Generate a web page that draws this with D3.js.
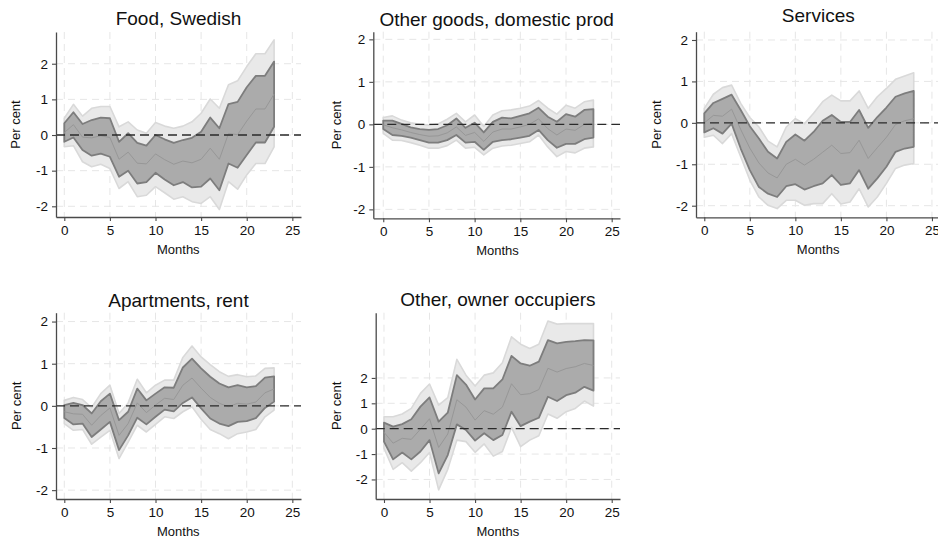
<!DOCTYPE html>
<html>
<head>
<meta charset="utf-8">
<script src="https://cdn.jsdelivr.net/npm/d3@7"></script>
<style>
  html, body { margin: 0; padding: 0; background: #ffffff; }
  svg { display: block; font-family: "Liberation Sans", Arial, sans-serif; }
</style>
</head>
<body>
<svg id="chart" width="938" height="537"></svg>
<script>
// ---------------- DATA ----------------
const months = [0,1,2,3,4,5,6,7,8,9,10,11,12,13,14,15,16,17,18,19,20,21,22,23];
const xTicks = [0, 5, 10, 15, 20, 25];
const yTicks = [-2, -1, 0, 1, 2];
const titles = ["Food, Swedish", "Other goods, domestic prod", "Services", "Apartments, rent", "Other, owner occupiers"];
const xLabel = "Months";
const yLabel = "Per cent";

// Food, Swedish
const foodHi90 = [0.47,0.86,0.53,0.75,0.80,0.80,0.23,0.37,0.14,0.05,0.35,0.25,0.19,0.25,0.37,0.61,1.01,0.75,1.41,1.52,1.92,2.28,2.28,2.67];
const foodHi68 = [0.33,0.64,0.31,0.42,0.49,0.47,-0.19,0.05,-0.22,-0.30,0.00,-0.12,-0.22,-0.14,-0.08,0.09,0.49,0.19,0.87,0.93,1.34,1.66,1.66,2.06];
const foodMed  = [0.07,0.29,-0.06,-0.08,-0.02,-0.07,-0.68,-0.48,-0.79,-0.81,-0.53,-0.69,-0.82,-0.73,-0.78,-0.68,-0.37,-0.68,0.04,0.01,0.39,0.73,0.73,1.15];
const foodLo68 = [-0.19,-0.07,-0.42,-0.58,-0.52,-0.61,-1.17,-1.00,-1.36,-1.32,-1.06,-1.25,-1.41,-1.32,-1.47,-1.45,-1.22,-1.55,-0.80,-0.92,-0.56,-0.21,-0.21,0.23];
const foodLo90 = [-0.33,-0.30,-0.75,-0.89,-0.82,-0.94,-1.50,-1.31,-1.73,-1.69,-1.45,-1.62,-1.80,-1.73,-1.87,-1.92,-1.73,-2.09,-1.31,-1.52,-1.12,-0.80,-0.80,-0.33];

// Other goods, domestic prod
const goodsHi90 = [0.16,0.20,0.10,0.04,0.00,-0.02,0.01,0.12,0.26,0.06,0.22,-0.05,0.22,0.32,0.34,0.38,0.43,0.56,0.38,0.24,0.45,0.38,0.53,0.57];
const goodsHi68 = [0.09,0.09,0.01,-0.07,-0.11,-0.13,-0.11,-0.02,0.14,-0.08,0.04,-0.19,0.06,0.16,0.14,0.20,0.26,0.39,0.18,0.06,0.24,0.18,0.34,0.36];
const goodsMed  = [-0.01,-0.08,-0.13,-0.19,-0.24,-0.28,-0.27,-0.20,-0.06,-0.26,-0.19,-0.40,-0.18,-0.11,-0.11,-0.06,0.00,0.13,-0.10,-0.25,-0.11,-0.14,0.00,0.03];
const goodsLo68 = [-0.11,-0.25,-0.27,-0.31,-0.37,-0.43,-0.43,-0.37,-0.25,-0.43,-0.41,-0.60,-0.41,-0.37,-0.35,-0.31,-0.27,-0.13,-0.37,-0.55,-0.46,-0.46,-0.35,-0.31];
const goodsLo90 = [-0.21,-0.37,-0.38,-0.43,-0.49,-0.56,-0.56,-0.50,-0.37,-0.56,-0.54,-0.72,-0.56,-0.51,-0.49,-0.45,-0.41,-0.25,-0.53,-0.76,-0.64,-0.67,-0.56,-0.53];

// Services
const servHi90 = [0.35,0.69,0.85,0.91,0.47,0.13,-0.10,-0.44,-0.58,-0.10,0.10,-0.02,0.23,0.51,0.67,0.53,0.53,0.77,0.35,0.63,0.83,1.05,1.13,1.21];
const servHi68 = [0.23,0.48,0.58,0.68,0.31,-0.08,-0.38,-0.70,-0.86,-0.46,-0.28,-0.43,-0.22,0.05,0.19,0.02,0.02,0.31,-0.12,0.14,0.37,0.63,0.71,0.77];
const servMed  = [0.00,0.18,0.16,0.33,-0.16,-0.61,-0.97,-1.21,-1.33,-1.00,-0.88,-1.02,-0.88,-0.71,-0.54,-0.74,-0.72,-0.42,-0.86,-0.60,-0.35,-0.04,0.05,0.10];
const servLo68 = [-0.23,-0.13,-0.26,-0.02,-0.62,-1.14,-1.55,-1.71,-1.79,-1.53,-1.48,-1.61,-1.53,-1.46,-1.26,-1.50,-1.46,-1.14,-1.59,-1.34,-1.06,-0.70,-0.62,-0.58];
const servLo90 = [-0.35,-0.30,-0.50,-0.26,-0.82,-1.38,-1.79,-1.99,-2.07,-1.87,-1.87,-1.99,-1.95,-1.95,-1.71,-1.96,-1.91,-1.59,-2.03,-1.79,-1.46,-1.10,-1.02,-0.98];

// Apartments, rent
const rentHi90 = [0.13,0.20,0.15,-0.04,0.29,0.49,-0.18,0.07,0.63,0.31,0.49,0.61,0.61,1.15,1.42,1.16,0.98,0.81,0.70,0.74,0.69,0.71,0.89,0.90];
const rentHi68 = [0.02,0.07,0.02,-0.18,0.11,0.29,-0.34,-0.14,0.41,0.13,0.29,0.44,0.43,0.91,1.12,0.89,0.69,0.53,0.44,0.49,0.44,0.47,0.67,0.70];
const rentMed  = [-0.14,-0.19,-0.20,-0.46,-0.23,-0.05,-0.70,-0.42,0.07,-0.16,0.02,0.18,0.15,0.49,0.66,0.42,0.20,0.06,-0.02,0.06,0.04,0.09,0.31,0.40];
const rentLo68 = [-0.29,-0.44,-0.42,-0.74,-0.56,-0.38,-1.05,-0.70,-0.28,-0.44,-0.26,-0.09,-0.13,0.07,0.20,-0.06,-0.30,-0.42,-0.48,-0.38,-0.36,-0.29,-0.05,0.10];
const rentLo90 = [-0.42,-0.58,-0.56,-0.91,-0.74,-0.58,-1.25,-0.86,-0.46,-0.62,-0.44,-0.26,-0.30,-0.14,-0.02,-0.32,-0.56,-0.66,-0.78,-0.66,-0.62,-0.56,-0.26,-0.10];

// Other, owner occupiers
const ownHi90 = [0.47,0.47,0.58,0.80,1.39,1.76,0.93,1.22,2.73,2.11,1.68,2.11,2.20,2.60,3.62,3.33,3.16,3.33,4.24,4.12,4.14,4.14,4.14,4.14];
const ownHi68 = [0.24,0.08,0.18,0.37,0.87,1.23,0.28,0.63,2.11,1.74,1.15,1.59,1.59,1.94,2.87,2.57,2.48,2.64,3.49,3.36,3.42,3.45,3.49,3.48];
const ownMed  = [-0.14,-0.57,-0.38,-0.42,-0.02,0.39,-0.74,-0.21,1.14,0.85,0.34,0.71,0.57,0.85,1.77,1.34,1.38,1.54,2.38,2.23,2.37,2.44,2.57,2.49];
const ownLo68 = [-0.51,-1.21,-0.94,-1.21,-0.90,-0.45,-1.76,-1.04,0.17,-0.05,-0.47,-0.18,-0.45,-0.25,0.67,0.10,0.28,0.43,1.26,1.09,1.32,1.42,1.65,1.50];
const ownLo90 = [-0.77,-1.60,-1.34,-1.67,-1.34,-0.94,-2.41,-1.60,-0.45,-0.51,-0.93,-0.60,-1.08,-0.90,0.05,-0.71,-0.45,-0.28,0.58,0.41,0.67,0.80,1.09,0.89];

const seriesSets = [
  [foodLo90, foodLo68, foodMed, foodHi68, foodHi90],
  [goodsLo90, goodsLo68, goodsMed, goodsHi68, goodsHi90],
  [servLo90, servLo68, servMed, servHi68, servHi90],
  [rentLo90, rentLo68, rentMed, rentHi68, rentHi90],
  [ownLo90, ownLo68, ownMed, ownHi68, ownHi90]
];

// ---------------- LAYOUT (pixels, styling) ----------------
const layouts = [
  { left: 56,    right: 301,   top: 32,    bottom: 217,   xd: [-0.91, 25.95], yd: [-2.30, 2.89], titleY: 25,    ylabX: 15 },
  { left: 373.3, right: 620,   top: 31.7,  bottom: 218.3, xd: [-1.09, 25.91], yd: [-2.21, 2.18], titleY: 26,    ylabX: 336 },
  { left: 696,   right: 940.6, top: 31.7,  bottom: 217.3, xd: [-0.91, 25.95], yd: [-2.28, 2.20], titleY: 21.7,  ylabX: 656 },
  { left: 56,    right: 301,   top: 312.7, bottom: 499,   xd: [-0.91, 25.95], yd: [-2.21, 2.21], titleY: 306.7, ylabX: 16.7 },
  { left: 375.7, right: 620,   top: 312.7, bottom: 499,   xd: [-0.91, 25.91], yd: [-2.77, 4.57], titleY: 306,   ylabX: 336.7 }
];

const svg = d3.select("#chart");

layouts.forEach((L, i) => {
  const [lo90, lo68, med, hi68, hi90] = seriesSets[i];
  const x = d3.scaleLinear().domain(L.xd).range([L.left, L.right]);
  const y = d3.scaleLinear().domain(L.yd).range([L.bottom, L.top]);
  const g = svg.append("g");

  // gridlines
  g.selectAll(".vg").data(xTicks).enter().append("line")
    .attr("x1", d => x(d)).attr("x2", d => x(d))
    .attr("y1", L.top).attr("y2", L.bottom)
    .attr("stroke", "#e6e6e6").attr("stroke-width", 1)
    .attr("stroke-dasharray", "7,5");
  g.selectAll(".hg").data(yTicks).enter().append("line")
    .attr("x1", L.left).attr("x2", L.right)
    .attr("y1", d => y(d)).attr("y2", d => y(d))
    .attr("stroke", "#e6e6e6").attr("stroke-width", 1)
    .attr("stroke-dasharray", "7,5");

  const rows = months.map((m, k) => ({ m, lo90: lo90[k], lo68: lo68[k], med: med[k], hi68: hi68[k], hi90: hi90[k] }));

  const outer = d3.area().x(d => x(d.m)).y0(d => y(d.lo90)).y1(d => y(d.hi90));
  const inner = d3.area().x(d => x(d.m)).y0(d => y(d.lo68)).y1(d => y(d.hi68));
  const mid = d3.line().x(d => x(d.m)).y(d => y(d.med));

  g.append("path").datum(rows).attr("d", outer)
    .attr("fill", "#e9e9e9").attr("stroke", "#d9d9d9").attr("stroke-width", 1.6)
    .attr("stroke-linejoin", "round");
  g.append("path").datum(rows).attr("d", inner)
    .attr("fill", "#ababab").attr("stroke", "#7d7d7d").attr("stroke-width", 1.8)
    .attr("stroke-linejoin", "round");
  g.append("path").datum(rows).attr("d", mid)
    .attr("fill", "none").attr("stroke", "#979797").attr("stroke-width", 1);

  // zero line
  g.append("line")
    .attr("x1", L.left).attr("x2", L.right)
    .attr("y1", y(0)).attr("y2", y(0))
    .attr("stroke", "#2a2a2a").attr("stroke-width", 1.3)
    .attr("stroke-dasharray", "9,5");

  // axes
  const xa = g.append("g").attr("transform", `translate(0,${L.bottom})`)
    .call(d3.axisBottom(x).tickValues(xTicks).tickSize(4).tickPadding(4).tickSizeOuter(0));
  const ya = g.append("g").attr("transform", `translate(${L.left},0)`)
    .call(d3.axisLeft(y).tickValues(yTicks).tickSize(4).tickPadding(4).tickSizeOuter(0)
      .tickFormat(d3.format("d")));
  [xa, ya].forEach(a => {
    a.select(".domain").attr("stroke", "#4a4a4a").attr("stroke-width", 1.3);
    a.selectAll(".tick line").attr("stroke", "#4a4a4a").attr("stroke-width", 1.1);
    a.selectAll(".tick text").attr("fill", "#111").style("font-size", "13.5px")
      .style("font-family", "'Liberation Sans', Arial, sans-serif");
  });
  ya.selectAll(".tick text").text(d => d < 0 ? "-" + Math.abs(d) : String(d));

  // title
  g.append("text")
    .attr("x", (L.left + Math.min(L.right, 940.6)) / 2).attr("y", L.titleY)
    .attr("text-anchor", "middle").attr("fill", "#111")
    .style("font-size", "19px").text(titles[i]);

  // x label
  g.append("text")
    .attr("x", x(12.5)).attr("y", L.bottom + 36.5)
    .attr("text-anchor", "middle").attr("fill", "#111")
    .style("font-size", "13px").text(xLabel);

  // y label
  const cy = (L.top + L.bottom) / 2;
  g.append("text")
    .attr("transform", `translate(${L.ylabX + 4.5},${cy}) rotate(-90)`)
    .attr("text-anchor", "middle").attr("fill", "#111")
    .style("font-size", "13px").text(yLabel);
});
</script>
</body>
</html>
